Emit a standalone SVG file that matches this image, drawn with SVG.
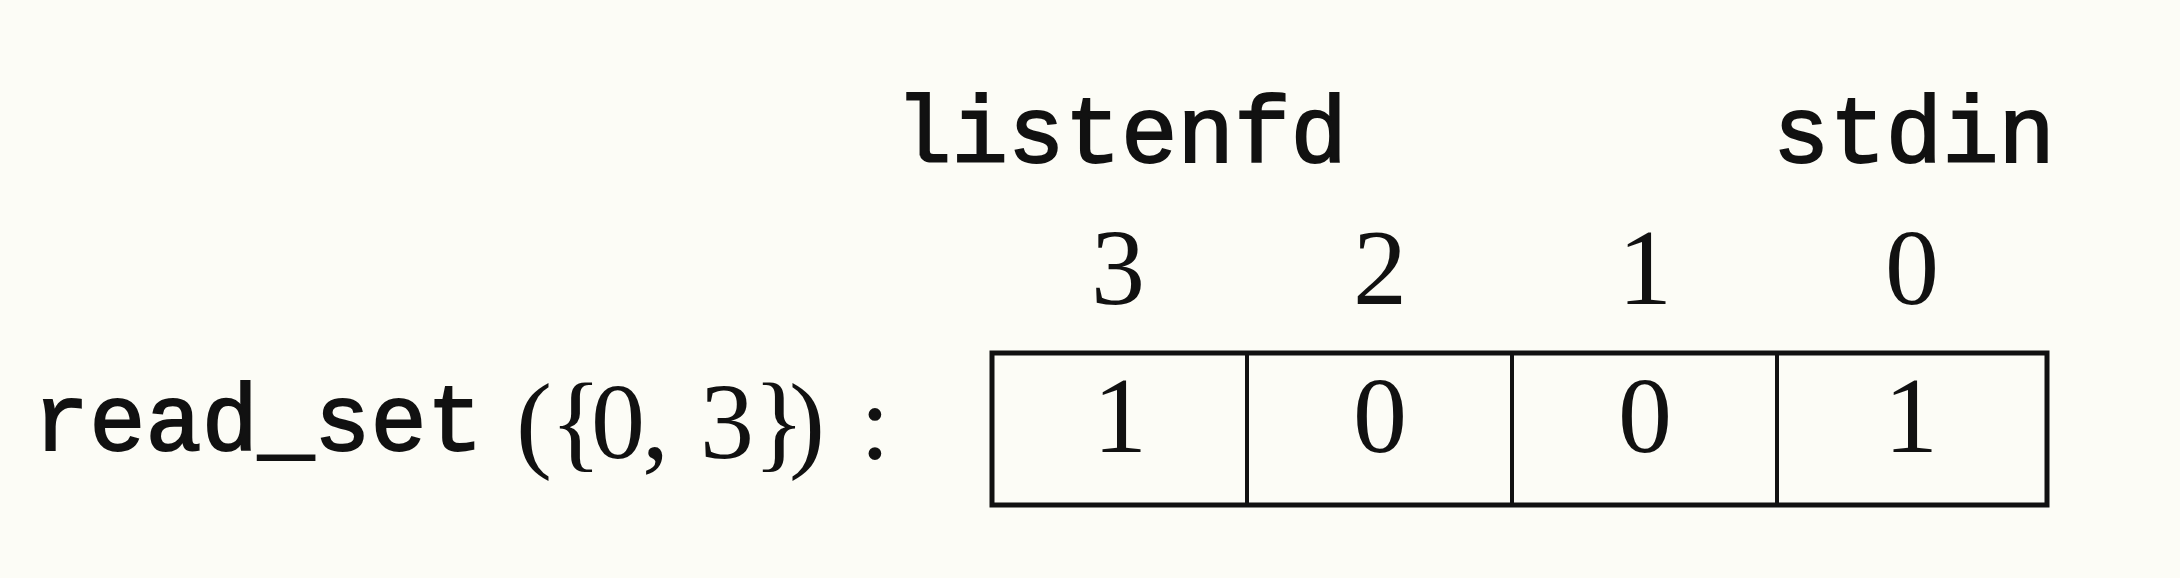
<svg xmlns="http://www.w3.org/2000/svg" width="2180" height="578" viewBox="0 0 2180 578">
<style>
.mono{font-family:"Liberation Mono","DejaVu Sans Mono",monospace;font-size:94px;fill:#111;stroke:#111;stroke-width:2;}
.num{font-family:"Liberation Serif","Times New Roman",serif;font-size:108px;fill:#111;text-anchor:middle;}
.math{font-family:"Liberation Serif","Times New Roman",serif;font-size:108px;fill:#111;}
.box{fill:none;stroke:#111;stroke-width:5;}
.div{stroke:#111;stroke-width:4;}
</style>
<rect x="0" y="0" width="2180" height="578" fill="#fcfcf6"/>
<g id="labels">
<text class="mono" x="895" y="162" textLength="452" lengthAdjust="spacingAndGlyphs">listenfd</text>
<text class="mono" x="1773" y="162" textLength="282" lengthAdjust="spacingAndGlyphs">stdin</text>
</g>
<g id="indices">
<text class="num" x="1118" y="304">3</text>
<text class="num" x="1380" y="304">2</text>
<text class="num" x="1645" y="304">1</text>
<text class="num" x="1912" y="304">0</text>
</g>
<g id="name">
<text class="mono" x="33" y="450" textLength="450" lengthAdjust="spacingAndGlyphs">read_set</text>
<text class="math" y="458" x="516 550 591 642 665 700 753 789 832 860">({0, 3}) :</text>
</g>
<g id="bitvector">
<rect class="box" x="992" y="353" width="1055" height="152"/>
<line class="div" x1="1247" y1="353" x2="1247" y2="505"/>
<line class="div" x1="1512" y1="353" x2="1512" y2="505"/>
<line class="div" x1="1777" y1="353" x2="1777" y2="505"/>
<text class="num" x="1120" y="452">1</text>
<text class="num" x="1380" y="452">0</text>
<text class="num" x="1645" y="452">0</text>
<text class="num" x="1911" y="452">1</text>
</g>
<g id="connectors"></g>
</svg>
